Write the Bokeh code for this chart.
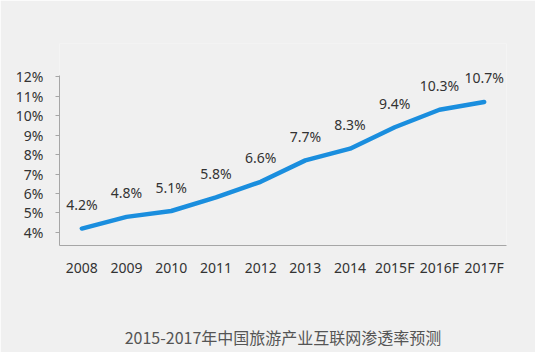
from bokeh.plotting import figure
from bokeh.models import ColumnDataSource, LabelSet, Range1d, FixedTicker, CustomJSTickFormatter
from bokeh.core.properties import value
from bokeh.embed import file_html
from bokeh.resources import INLINE

years = ["2008", "2009", "2010", "2011", "2012", "2013", "2014", "2015F", "2016F", "2017F"]
rates = [4.2, 4.8, 5.1, 5.8, 6.6, 7.7, 8.3, 9.4, 10.3, 10.7]
labels = ["4.2%", "4.8%", "5.1%", "5.8%", "6.6%", "7.7%", "8.3%", "9.4%", "10.3%", "10.7%"]
y_ticks = [4, 5, 6, 7, 8, 9, 10, 11, 12]
title_text = "2015-2017年中国旅游产业互联网渗透率预测"

BG = "#f0f0f0"
FONT = "Noto Sans"

src = ColumnDataSource(dict(x=years, y=rates, t=labels))

# frame extended upward so labels are not clipped; axis line bounded to the chart area
p = figure(width=535, height=352, x_range=years, y_range=Range1d(3.33, 13.7),
           output_backend="svg", toolbar_location=None,
           min_border_left=59, min_border_right=29, min_border_top=43, min_border_bottom=107,
           background_fill_color=BG, border_fill_color=BG, outline_line_color=None)

p.line("x", "y", source=src, line_color="#1a8ede", line_width=4.5,
       line_join="round", line_cap="round")

p.add_layout(LabelSet(x="x", y="y", text="t", source=src, y_offset=24,
                      text_align="center", text_baseline="middle",
                      text_font_size="14px", text_color="#333333", text_font=value(FONT)))

p.xgrid.visible = False
p.ygrid.visible = False

p.yaxis.bounds = (3.33, 12.05)
p.yaxis.ticker = FixedTicker(ticks=y_ticks)
p.yaxis.formatter = CustomJSTickFormatter(code="return tick + '%';")
p.yaxis.major_tick_out = 4
p.yaxis.major_tick_in = 0
p.yaxis.minor_tick_line_color = None
p.yaxis.axis_line_color = "#a6a6a6"
p.yaxis.major_tick_line_color = "#a6a6a6"
p.yaxis.major_label_standoff = 12
p.yaxis.major_label_text_font_size = "14px"
p.yaxis.major_label_text_color = "#333333"
p.yaxis.major_label_text_font = FONT

p.xaxis.major_tick_line_color = None
p.xaxis.minor_tick_line_color = None
p.xaxis.major_tick_out = 0
p.xaxis.axis_line_color = "#a6a6a6"
p.xaxis.major_label_standoff = 12
p.xaxis.major_label_text_font_size = "14px"
p.xaxis.major_label_text_color = "#333333"
p.xaxis.major_label_text_font = FONT

p.xaxis.axis_label = title_text
p.xaxis.axis_label_standoff = 45
p.xaxis.axis_label_text_font_size = "16px"
p.xaxis.axis_label_text_font_style = "normal"
p.xaxis.axis_label_text_color = "#555555"
p.xaxis.axis_label_text_font = "Noto Sans CJK SC"

open("out.html", "w").write(file_html(p, INLINE))
